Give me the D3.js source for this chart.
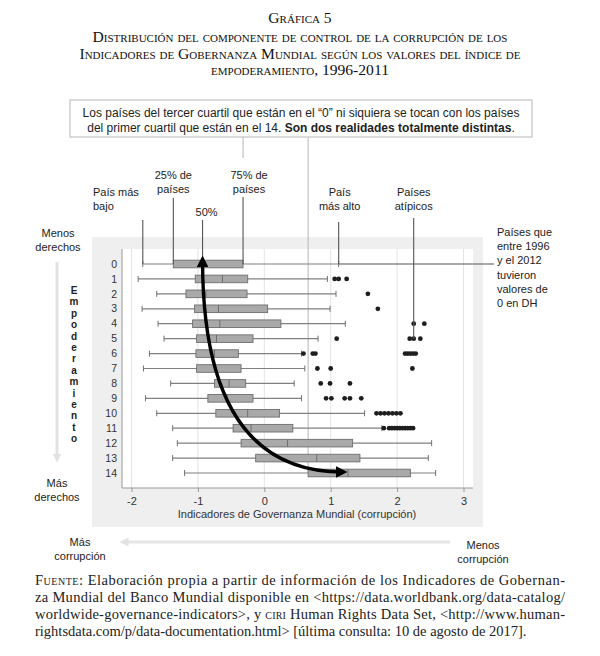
<!DOCTYPE html>
<html>
<head>
<meta charset="utf-8">
<script src="https://cdn.jsdelivr.net/npm/d3@7"></script>
<style>
  body { margin: 0; background: #fff; }
  svg { display: block; }
</style>
</head>
<body>
<div id="chart"></div>
<script>
'use strict'

// niveles del indice de empoderamiento (filas)
const niveles = ["0","1","2","3","4","5","6","7","8","9","10","11","12","13","14"];
// valores del control de la corrupcion por fila
const bigoteMin = [-1.83,-1.90,-1.62,-1.84,-1.60,-1.51,-1.73,-1.82,-1.41,-1.79,-1.62,-1.38,-1.31,-1.38,-1.20];
const cuartil1  = [-1.37,-1.04,-1.18,-1.05,-1.08,-1.02,-1.03,-1.02,-0.75,-0.85,-0.73,-0.47,-0.35,-0.13,0.66];
const mediana   = [-0.93,-0.63,-0.88,-0.69,-0.67,-0.72,-0.75,-0.74,-0.53,-0.56,-0.25,-0.20,0.35,0.79,1.26];
const cuartil3  = [-0.32,-0.25,-0.26,0.05,0.25,-0.17,-0.39,-0.35,-0.28,-0.17,0.23,0.43,1.33,1.44,2.20];
const bigoteMax = [1.12,0.95,1.08,0.99,1.22,0.81,0.56,0.61,0.45,0.56,1.51,1.77,2.52,2.47,2.58];
const atipicos = [
    [],
    [1.06,1.12,1.24],
    [1.56],
    [1.71],
    [2.25,2.41],
    [1.09,2.19,2.25,2.35],
    [0.59,0.73,0.77,2.12,2.16,2.20,2.24,2.28],
    [0.80,1.00,2.23],
    [0.85,0.99,1.29],
    [0.93,1.01,1.21,1.29,1.46],
    [1.69,1.75,1.81,1.87,1.93,1.99,2.05],
    [1.80,1.88,1.92,1.96,2.00,2.04,2.08,2.12,2.16,2.20,2.24],
    [],
    [],
    []
];
const ticksX = [-2,-1,0,1,2,3];
const letras = "Empoderamiento".split("");

const serif = "'Liberation Serif', 'DejaVu Serif', serif";
const sans = "'Liberation Sans', Arial, sans-serif";

const svg = d3.select("#chart").append("svg")
    .attr("width", 600)
    .attr("height", 656)
    .style("background", "#fff");

// titulo
const titulo = ["Gráfica 5",
    "Distribución del componente de control de la corrupción de los",
    "Indicadores de Gobernanza Mundial según los valores del índice de",
    "empoderamiento, 1996-2011"];
svg.selectAll("text.titulo")
    .data(titulo)
    .enter()
    .append("text")
    .attr("class", "titulo")
    .attr("x", 300)
    .attr("y", (d, i) => i == 0 ? 23 : 42 + (i - 1) * 16.5)
    .attr("text-anchor", "middle")
    .style("font-family", serif)
    .style("font-size", "15.6px")
    .style("font-variant", "small-caps")
    .attr("fill", "#111")
    .text(d => d);

// escalas
const x = d3.scaleLinear().domain([-2, 3]).range([131.5, 463.5]);
const y = d3.scalePoint().domain(niveles).range([264, 473]);

// panel gris
svg.append("rect")
    .attr("x", 92).attr("y", 237)
    .attr("width", 391).attr("height", 290)
    .attr("fill", "#efefef");
svg.append("rect")
    .attr("x", 122).attr("y", 249)
    .attr("width", 351).attr("height", 239)
    .attr("fill", "#fff");

// cuadricula
svg.append("g")
    .selectAll("line")
    .data(ticksX)
    .enter()
    .append("line")
    .attr("x1", d => x(d)).attr("x2", d => x(d))
    .attr("y1", 249).attr("y2", 488)
    .attr("stroke", "#e4e4e4");

// ejes
svg.append("g")
    .attr("transform", "translate(0,488)")
    .call(d3.axisBottom(x).tickValues(ticksX).tickSize(4).tickFormat(d3.format("d")))
    .call(g => g.select(".domain").attr("stroke", "#999").attr("d", "M122,0H473"))
    .call(g => g.selectAll(".tick line").attr("stroke", "#999"))
    .call(g => g.selectAll("text")
        .attr("fill", "#333").attr("dy", "0.9em")
        .style("font-family", sans).style("font-size", "11px"))
    .call(g => g.selectAll(".tick text").text(d => d < 0 ? "-" + Math.abs(d) : d));

svg.append("line")
    .attr("x1", 122).attr("x2", 122)
    .attr("y1", 249).attr("y2", 488)
    .attr("stroke", "#999");

svg.append("g")
    .selectAll("text")
    .data(niveles)
    .enter()
    .append("text")
    .attr("x", 117)
    .attr("y", d => y(d))
    .attr("dy", "0.35em")
    .attr("text-anchor", "end")
    .style("font-family", sans)
    .style("font-size", "10.5px")
    .attr("fill", "#333")
    .text(d => d);

svg.append("text")
    .attr("x", 297).attr("y", 518)
    .attr("text-anchor", "middle")
    .style("font-family", sans)
    .style("font-size", "11px")
    .attr("fill", "#333")
    .text("Indicadores de Governanza Mundial (corrupción)");

// linea guia del primer cuartil de la fila 14 hasta el recuadro
svg.append("line")
    .attr("x1", x(cuartil1[14])).attr("x2", x(cuartil1[14]))
    .attr("y1", 137).attr("y2", y("14"))
    .attr("stroke", "#b5b5b5");

// cajas
const filas = niveles.map((n, i) => ({
    n: n, min: bigoteMin[i], q1: cuartil1[i], med: mediana[i],
    q3: cuartil3[i], max: bigoteMax[i], out: atipicos[i]
}));

const caja = svg.append("g").selectAll("g")
    .data(filas)
    .enter()
    .append("g");

caja.append("line")
    .attr("x1", d => x(d.min)).attr("x2", d => x(d.max))
    .attr("y1", d => y(d.n)).attr("y2", d => y(d.n))
    .attr("stroke", "#808080").attr("stroke-width", 1.2);

caja.append("line")
    .attr("x1", d => x(d.min)).attr("x2", d => x(d.min))
    .attr("y1", d => y(d.n) - 3).attr("y2", d => y(d.n) + 3)
    .attr("stroke", "#707070");
caja.append("line")
    .attr("x1", d => x(d.max)).attr("x2", d => x(d.max))
    .attr("y1", d => y(d.n) - 3).attr("y2", d => y(d.n) + 3)
    .attr("stroke", "#707070");

caja.append("rect")
    .attr("x", d => x(d.q1))
    .attr("y", d => y(d.n) - 3.8)
    .attr("width", d => x(d.q3) - x(d.q1))
    .attr("height", 7.6)
    .attr("fill", "#a9a9a9")
    .attr("stroke", "#6e6e6e")
    .attr("stroke-width", 0.9);

caja.append("line")
    .attr("x1", d => x(d.med)).attr("x2", d => x(d.med))
    .attr("y1", d => y(d.n) - 3.8).attr("y2", d => y(d.n) + 3.8)
    .attr("stroke", "#6e6e6e");

caja.selectAll("circle")
    .data(d => d.out.map(v => ({ n: d.n, v: v })))
    .enter()
    .append("circle")
    .attr("cx", d => x(d.v))
    .attr("cy", d => y(d.n))
    .attr("r", 2.4)
    .attr("fill", "#1e1e1e");

// recuadro superior
svg.append("rect")
    .attr("x", 70).attr("y", 100)
    .attr("width", 462).attr("height", 37)
    .attr("fill", "#fff")
    .attr("stroke", "#cfcfcf")
    .attr("stroke-width", 1.5);

const nota = svg.append("text")
    .attr("text-anchor", "middle")
    .style("font-family", sans)
    .style("font-size", "12px")
    .attr("fill", "#222");
nota.append("tspan").attr("x", 301).attr("y", 117)
    .text("Los países del tercer cuartil que están en el “0” ni siquiera se tocan con los países");
const l2 = nota.append("tspan").attr("x", 301).attr("y", 132);
l2.append("tspan").text("del primer cuartil que están en el 14. ");
l2.append("tspan").style("font-weight", "bold").text("Son dos realidades totalmente distintas");
l2.append("tspan").text(".");

svg.append("line")
    .attr("x1", x(cuartil3[0])).attr("x2", x(cuartil3[0]))
    .attr("y1", 137).attr("y2", 158)
    .attr("stroke", "#b5b5b5");

// etiquetas de la caja 0
const guias = [
    { v: bigoteMin[0], y0: 220, y1: y("0"), lineas: ["País más", "bajo"], tx: 93, ty: 192, anchor: "start" },
    { v: cuartil1[0], y0: 198, y1: y("0"), lineas: ["25% de", "países"], tx: x(cuartil1[0]), ty: 175, anchor: "middle" },
    { v: mediana[0], y0: 220, y1: y("0"), lineas: ["50%"], tx: x(mediana[0]) + 4, ty: 212, anchor: "middle" },
    { v: cuartil3[0], y0: 197, y1: y("0"), lineas: ["75% de", "países"], tx: x(cuartil3[0]) + 6, ty: 175, anchor: "middle" },
    { v: bigoteMax[0], y0: 222, y1: y("0"), lineas: ["País", "más alto"], tx: x(bigoteMax[0]) + 1, ty: 192, anchor: "middle" },
    { v: atipicos[4][0], y0: 218, y1: y("5"), lineas: ["Países", "atípicos"], tx: x(atipicos[4][0]), ty: 192, anchor: "middle" }
];

svg.append("g").selectAll("line")
    .data(guias)
    .enter()
    .append("line")
    .attr("x1", d => x(d.v)).attr("x2", d => x(d.v))
    .attr("y1", d => d.y0).attr("y2", d => d.y1)
    .attr("stroke", "#555").attr("stroke-width", 1.1);

guias.forEach(g => {
    const t = svg.append("text")
        .attr("text-anchor", g.anchor)
        .style("font-family", sans)
        .style("font-size", "11px")
        .attr("fill", "#222");
    g.lineas.forEach((l, i) => {
        t.append("tspan").attr("x", g.tx).attr("y", g.ty + 4 + i * 14).text(l);
    });
});

// guia para los paises con 0 en DH
svg.append("line")
    .attr("x1", x(bigoteMax[0])).attr("x2", 494)
    .attr("y1", y("0")).attr("y2", y("0"))
    .attr("stroke", "#555").attr("stroke-width", 1.1);

const dh = ["Países que", "entre 1996", "y el 2012", "tuvieron", "valores de", "0 en DH"];
svg.append("g").selectAll("text")
    .data(dh)
    .enter()
    .append("text")
    .attr("x", 497)
    .attr("y", (d, i) => 236 + i * 14.2)
    .style("font-family", sans)
    .style("font-size", "11px")
    .attr("fill", "#222")
    .text(d => d);

// flecha curva de la mediana 0 a la mediana 14
const defs = svg.append("defs");
defs.append("marker")
    .attr("id", "punta")
    .attr("viewBox", "0 0 10 10")
    .attr("refX", 6).attr("refY", 5)
    .attr("markerWidth", 3.4).attr("markerHeight", 3.4)
    .attr("orient", "auto-start-reverse")
    .append("path")
    .attr("d", "M0,0L10,5L0,10z")
    .attr("fill", "#000");

const x0 = x(mediana[0]), y0 = y("0") - 4;
const x1 = x(mediana[14]) - 5, y1 = y("14") - 1;
const curva = d3.path();
curva.moveTo(x0, y0);
curva.quadraticCurveTo(x0, y1, x1, y1);
svg.append("path")
    .attr("d", curva.toString())
    .attr("fill", "none")
    .attr("stroke", "#000")
    .attr("stroke-width", 3.4)
    .attr("marker-start", "url(#punta)")
    .attr("marker-end", "url(#punta)");

// flechas grises laterales
defs.append("marker")
    .attr("id", "gris")
    .attr("viewBox", "0 0 10 10")
    .attr("refX", 5).attr("refY", 5)
    .attr("markerWidth", 3).attr("markerHeight", 3)
    .attr("orient", "auto")
    .append("path")
    .attr("d", "M0,0L10,5L0,10z")
    .attr("fill", "#e2e2e2");

svg.append("line")
    .attr("x1", 57).attr("x2", 57)
    .attr("y1", 262).attr("y2", 458)
    .attr("stroke", "#e2e2e2").attr("stroke-width", 3)
    .attr("marker-end", "url(#gris)");

svg.append("line")
    .attr("x1", 450).attr("x2", 124)
    .attr("y1", 542).attr("y2", 542)
    .attr("stroke", "#e6e6e6").attr("stroke-width", 3)
    .attr("marker-end", "url(#gris)");

const lado = [
    { t: "Menos", x: 58, y: 237 }, { t: "derechos", x: 58, y: 251 },
    { t: "Más", x: 57, y: 487 }, { t: "derechos", x: 57, y: 501 },
    { t: "Más", x: 80, y: 546 }, { t: "corrupción", x: 80, y: 560 },
    { t: "Menos", x: 483, y: 549 }, { t: "corrupción", x: 483, y: 563 }
];
svg.append("g").selectAll("text")
    .data(lado)
    .enter()
    .append("text")
    .attr("x", d => d.x).attr("y", d => d.y)
    .attr("text-anchor", "middle")
    .style("font-family", sans)
    .style("font-size", "11px")
    .attr("fill", "#222")
    .text(d => d.t);

svg.append("g").selectAll("text")
    .data(letras)
    .enter()
    .append("text")
    .attr("x", 74)
    .attr("y", (d, i) => 294 + i * 11.4)
    .attr("text-anchor", "middle")
    .style("font-family", sans)
    .style("font-size", "10px")
    .style("font-weight", "bold")
    .attr("fill", "#222")
    .text(d => d);

// fuente
const fuente = svg.append("g")
    .style("font-family", serif)
    .style("font-size", "14.5px")
    .attr("fill", "#222");

const f1 = fuente.append("text").attr("x", 35).attr("y", 585)
    .attr("textLength", 530).attr("lengthAdjust", "spacing");
f1.append("tspan").style("font-variant", "small-caps").text("Fuente");
f1.append("tspan").text(": Elaboración propia a partir de información de los Indicadores de Gobernan-");

fuente.append("text").attr("x", 35).attr("y", 602)
    .attr("textLength", 530).attr("lengthAdjust", "spacing")
    .text("za Mundial del Banco Mundial disponible en <https://data.worldbank.org/data-catalog/");

const f3 = fuente.append("text").attr("x", 35).attr("y", 619)
    .attr("textLength", 530).attr("lengthAdjust", "spacing");
f3.append("tspan").text("worldwide-governance-indicators>, y ");
f3.append("tspan").style("font-variant", "small-caps").text("ciri");
f3.append("tspan").text(" Human Rights Data Set, <http://www.human-");

fuente.append("text").attr("x", 35).attr("y", 636)
    .text("rightsdata.com/p/data-documentation.html> [última consulta: 10 de agosto de 2017].");
</script>
</body>
</html>
